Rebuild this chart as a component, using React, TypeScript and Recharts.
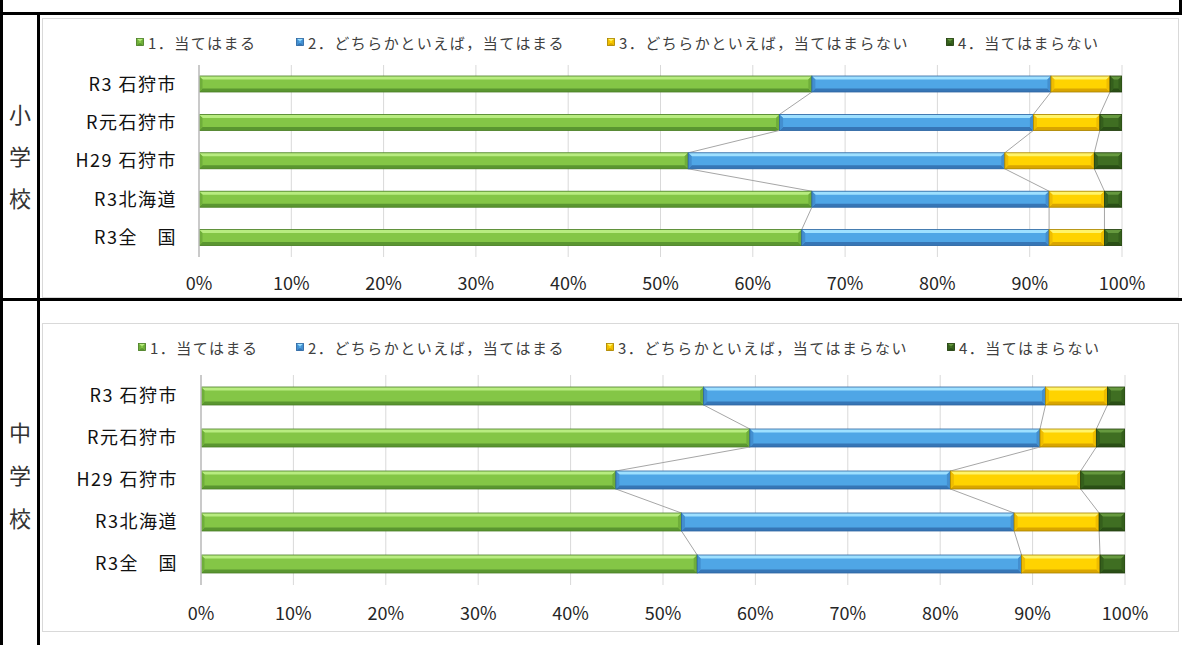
import React from 'react';
import { BarChart, Bar, XAxis, YAxis, CartesianGrid } from 'recharts';

const categories = ['R3 石狩市', 'R元石狩市', 'H29 石狩市', 'R3北海道', 'R3全　国'];
const seriesNames = [
  '1．当てはまる',
  '2．どちらかといえば，当てはまる',
  '3．どちらかといえば，当てはまらない',
  '4．当てはまらない',
];
const seriesKeys = ['s1', 's2', 's3', 's4'];

// 小学校
const elemAgree = [66.4, 62.9, 53.0, 66.4, 65.3];
const elemSomewhatAgree = [25.9, 27.5, 34.3, 25.7, 26.8];
const elemSomewhatDisagree = [6.4, 7.2, 9.7, 6.0, 6.0];
const elemDisagree = [1.3, 2.4, 3.0, 1.9, 1.9];

// 中学校
const juniorAgree = [54.4, 59.4, 44.9, 52.0, 53.7];
const juniorSomewhatAgree = [37.0, 31.4, 36.2, 36.0, 35.1];
const juniorSomewhatDisagree = [6.7, 6.1, 14.1, 9.2, 8.5];
const juniorDisagree = [1.9, 3.1, 4.8, 2.8, 2.7];

const percentTicks = [0, 10, 20, 30, 40, 50, 60, 70, 80, 90, 100];

const FONT = '"Noto Sans CJK JP", "Noto Sans", sans-serif';

// bevel colours per series: face, top light, bottom dark, sides, edge
const palette = [
  { face: '#84c646', light: '#b8ec80', dark: '#5a9630', side: '#6fae3a', edge: '#4a7d27' },
  { face: '#4fa6e6', light: '#9ee0ff', dark: '#3676b6', side: '#438fd0', edge: '#2d65a0' },
  { face: '#ffd300', light: '#fff46a', dark: '#d9a500', side: '#efbd00', edge: '#a88300' },
  { face: '#3f6e22', light: '#66993f', dark: '#2a4f16', side: '#355f1c', edge: '#233f10' },
];

const buildRows = (a: number[], b: number[], c: number[], d: number[]) =>
  categories.map((name, i) => ({ name, s1: a[i], s2: b[i], s3: c[i], s4: d[i] }));

const elemRows = buildRows(elemAgree, elemSomewhatAgree, elemSomewhatDisagree, elemDisagree);
const juniorRows = buildRows(juniorAgree, juniorSomewhatAgree, juniorSomewhatDisagree, juniorDisagree);

function Bevel({ x, y, w, h, c }: { x: number; y: number; w: number; h: number; c: any }) {
  const b = Math.max(0, Math.min(3.5, h / 3, w / 2));
  return (
    <g>
      <rect x={x} y={y} width={w} height={h} fill={c.face} />
      <polygon points={`${x},${y} ${x + w},${y} ${x + w - b},${y + b} ${x + b},${y + b}`} fill={c.light} />
      <polygon points={`${x},${y + h} ${x + w},${y + h} ${x + w - b},${y + h - b} ${x + b},${y + h - b}`} fill={c.dark} />
      <polygon points={`${x},${y} ${x + b},${y + b} ${x + b},${y + h - b} ${x},${y + h}`} fill={c.side} />
      <polygon points={`${x + w},${y} ${x + w - b},${y + b} ${x + w - b},${y + h - b} ${x + w},${y + h}`} fill={c.side} />
      <rect x={x} y={y} width={w} height={h} fill="none" stroke={c.edge} strokeWidth={0.8} />
    </g>
  );
}

const cumulative = (row: any, k: number) => {
  let s = 0;
  for (let j = 0; j <= k; j++) s += row[seriesKeys[j]];
  return s;
};

// bar segment + Excel-style series line to the next category
function SegmentShape(props: any) {
  const { x, y, width, height, index, payload, k, step, rows } = props;
  if (width == null || height == null) return null;
  const c = palette[k];
  let line = null;
  if (k < 3 && index < rows.length - 1) {
    const val = payload[seriesKeys[k]];
    const scale = width / val;
    const x0 = x + width - cumulative(payload, k) * scale;
    const xn = x0 + cumulative(rows[index + 1], k) * scale;
    line = <line x1={x + width} y1={y + height} x2={xn} y2={y + step} stroke="#a6a6a6" strokeWidth={1} />;
  }
  return (
    <g>
      <Bevel x={x} y={y} w={width} h={height} c={c} />
      {line}
    </g>
  );
}

function Legend({ top, lefts }: { top: number; lefts: number[] }) {
  return (
    <>
      {seriesNames.map((name, k) => (
        <div
          key={name}
          style={{
            position: 'absolute',
            left: lefts[k],
            top: top - 10,
            height: 20,
            display: 'flex',
            alignItems: 'center',
            whiteSpace: 'nowrap',
            fontSize: 15,
            letterSpacing: 1.5,
            color: '#404040',
          }}
        >
          <svg width={8} height={8} style={{ marginRight: 4 }}>
            <Bevel x={0.5} y={0.5} w={7} h={7} c={palette[k]} />
          </svg>
          {name}
        </div>
      ))}
    </>
  );
}

type PanelProps = {
  rows: any[];
  top: number;
  height: number;
  plotTop: number;
  plotBottom: number;
  plotLeft: number;
  plotRight: number;
  barSize: number;
  xTickMargin: number;
  yTickMargin: number;
};

function Panel({ rows, top, height, plotTop, plotBottom, plotLeft, plotRight, barSize, xTickMargin, yTickMargin }: PanelProps) {
  const xAxisHeight = 40;
  const marginBottom = height - plotBottom - xAxisHeight;
  const step = (plotBottom - plotTop) / rows.length;
  return (
    <div style={{ position: 'absolute', left: 0, top }}>
      <BarChart
        width={1182}
        height={height}
        data={rows}
        layout="vertical"
        margin={{ top: plotTop, right: 1182 - plotRight, bottom: marginBottom, left: 0 }}
      >
        <CartesianGrid horizontal={false} stroke="#d9d9d9" />
        <XAxis
          type="number"
          domain={[0, 100]}
          allowDataOverflow
          ticks={percentTicks}
          tickFormatter={(v: number) => `${v}%`}
          axisLine={false}
          tickLine={false}
          tickSize={0}
          tickMargin={xTickMargin}
          height={xAxisHeight}
          interval={0}
          tick={{ fontFamily: FONT, fontSize: 18, fill: '#262626' }}
        />
        <YAxis
          type="category"
          dataKey="name"
          width={plotLeft}
          axisLine={{ stroke: '#bfbfbf', strokeWidth: 1.5 }}
          tickLine={false}
          tickSize={0}
          tickMargin={yTickMargin}
          interval={0}
          tick={{ fontFamily: FONT, fontSize: 18, fill: '#111', letterSpacing: 1.5 }}
        />
        {seriesKeys.map((key, k) => (
          <Bar
            key={key}
            dataKey={key}
            stackId="a"
            barSize={barSize}
            isAnimationActive={false}
            shape={(p: any) => <SegmentShape {...p} k={k} step={step} rows={rows} />}
          />
        ))}
      </BarChart>
    </div>
  );
}

const blackLine = (left: number, top: number, width: number, height: number) => (
  <div style={{ position: 'absolute', left, top, width, height, background: '#000' }} />
);

const box = (top: number, height: number) => (
  <div
    style={{
      position: 'absolute',
      left: 42,
      top,
      width: 1137,
      height,
      border: '1px solid #d9d9d9',
      boxSizing: 'border-box',
    }}
  />
);

function SchoolLabel({ text, top, lineHeight }: { text: string; top: number; lineHeight: number }) {
  return (
    <div
      style={{
        position: 'absolute',
        left: 3,
        top,
        width: 34,
        textAlign: 'center',
        fontSize: 22,
        lineHeight: `${lineHeight}px`,
        color: '#333',
      }}
    >
      {text.split('').map((ch, i) => (
        <div key={i}>{ch}</div>
      ))}
    </div>
  );
}

export default function App() {
  return (
    <div
      style={{
        position: 'absolute',
        left: 0,
        top: 0,
        width: 1182,
        height: 645,
        background: '#fff',
        overflow: 'hidden',
        fontFamily: FONT,
      }}
    >
      {box(18, 280)}
      {box(323, 309)}

      <Legend top={42} lefts={[136, 296, 607, 946]} />
      <Legend top={347} lefts={[138, 296, 606, 947]} />

      <Panel
        rows={elemRows}
        top={0}
        height={300}
        plotTop={65}
        plotBottom={257}
        plotLeft={199}
        plotRight={1122}
        barSize={16}
        xTickMargin={20}
        yTickMargin={22}
      />
      <Panel
        rows={juniorRows}
        top={300}
        height={345}
        plotTop={75}
        plotBottom={285}
        plotLeft={201}
        plotRight={1125}
        barSize={18}
        xTickMargin={22}
        yTickMargin={23}
      />

      <SchoolLabel text="小学校" top={92} lineHeight={42} />
      <SchoolLabel text="中学校" top={410} lineHeight={43} />

      {blackLine(0, 0, 3, 645)}
      {blackLine(37, 12, 3, 633)}
      {blackLine(0, 12, 1182, 3)}
      {blackLine(0, 298, 1182, 3)}
      {blackLine(1179, 0, 3, 14)}
    </div>
  );
}
